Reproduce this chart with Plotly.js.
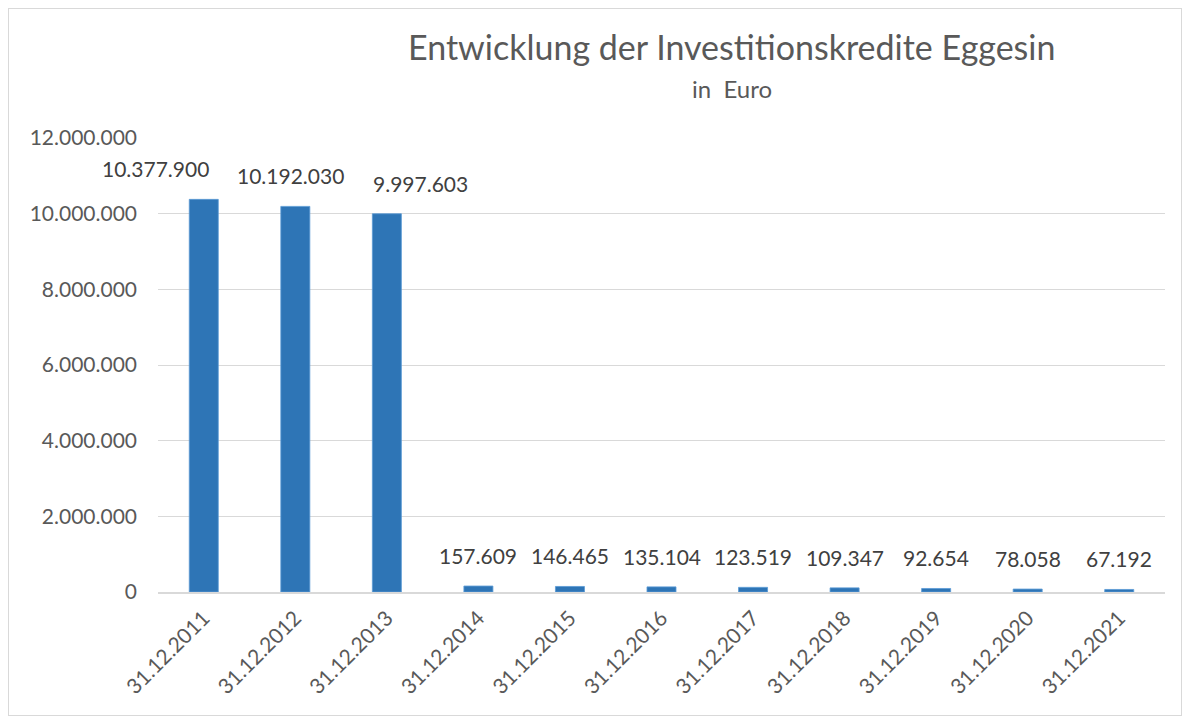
<!DOCTYPE html>
<html>
<head>
<meta charset="utf-8">
<script src="https://cdn.plot.ly/plotly-3.0.1.min.js"></script>
<style>
  html, body { margin: 0; padding: 0; background: #fff; }
  #chart { position: absolute; left: 8px; top: 8px; width: 1172px; height: 706px; border: 1px solid #D9D9D9; }
</style>
</head>
<body>
<div id="chart"></div>
<script>
'use strict';

// Stichtage und Kreditstand in Euro
const dates = ['31.12.2011', '31.12.2012', '31.12.2013', '31.12.2014', '31.12.2015', '31.12.2016',
               '31.12.2017', '31.12.2018', '31.12.2019', '31.12.2020', '31.12.2021'];
const credits = [10377900, 10192030, 9997603, 157609, 146465, 135104, 123519, 109347, 92654, 78058, 67192];

const FONT = 'Lato, Carlito, Calibri, "Open Sans", sans-serif';
const GREY = '#595959';

// the first three labels were pushed sideways in the original so they don't collide
const labelNudge = [-48, -5, 34];

const labels = dates.map((d, i) => ({
    x: d, y: credits[i], xref: 'x', yref: 'y',
    text: credits[i].toLocaleString('de-DE'),
    showarrow: false, yanchor: 'bottom', yshift: 16, xshift: labelNudge[i] || 0,
    font: { family: FONT, size: 21, color: '#404040' }
}));

const layout = {
    width: 1172, height: 706,
    margin: { l: 149, r: 16, t: 129, b: 123 },
    paper_bgcolor: '#fff', plot_bgcolor: '#fff',
    separators: ',.',
    showlegend: false,
    font: { family: FONT, color: GREY },
    bargap: 0.683,
    xaxis: {
        type: 'category', tickangle: -45,
        range: [-0.5, dates.length - 0.5], autorange: false,
        tickfont: { family: FONT, size: 21, color: GREY },
        showgrid: false, showline: true, linecolor: '#D9D9D9', linewidth: 1.5,
        ticks: '', ticklen: 0, ticklabelstandoff: 4
    },
    yaxis: {
        range: [0, 12000000], autorange: false, dtick: 2000000, tickformat: ',d',
        tickfont: { family: FONT, size: 21, color: GREY },
        gridcolor: '#D9D9D9', gridwidth: 1, zeroline: false,
        showline: false, ticks: '', ticklen: 0, ticklabelstandoff: 20
    },
    annotations: [
        { text: 'Entwicklung der Investitionskredite Eggesin', xref: 'paper', yref: 'paper',
          x: 0.57, y: 1, yshift: 92, xanchor: 'center', yanchor: 'middle', showarrow: false,
          font: { family: FONT, size: 34, color: GREY } },
        { text: 'in  Euro', xref: 'paper', yref: 'paper',
          x: 0.57, y: 1, yshift: 50, xanchor: 'center', yanchor: 'middle', showarrow: false,
          font: { family: FONT, size: 24, color: GREY } },
        ...labels
    ]
};

Plotly.newPlot('chart', [{
    type: 'bar', x: dates, y: credits,
    marker: { color: '#2E75B6', line: { color: '#5B9BD5', width: 0.8 } },
    hoverinfo: 'x+y'
}], layout, { staticPlot: true, displayModeBar: false });
</script>
</body>
</html>
